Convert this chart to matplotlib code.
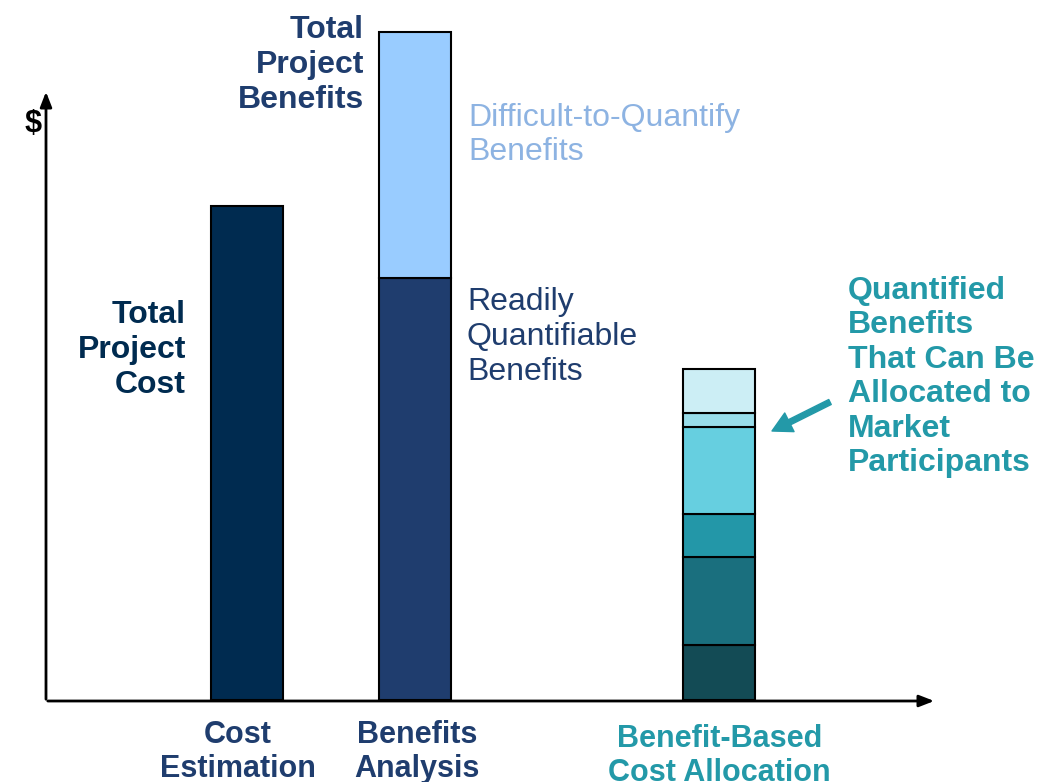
import matplotlib
matplotlib.use("Agg")
import matplotlib.pyplot as plt
from matplotlib import font_manager

# === Data (arbitrary $ units, total benefits = 100) ===
categories = ["Cost\nEstimation", "Benefits\nAnalysis", "Benefit-Based\nCost Allocation"]
total_cost = 74.0
readily_quantifiable = 63.2
difficult_to_quantify = 36.8
allocation_parts = [8.2, 13.2, 6.4, 13.0, 2.2, 6.6]  # bottom -> top

# === Styling ===
navy = "#002B50"
blue = "#1F3D6E"
light_blue = "#99CCFF"
light_text = "#8DB3E2"
teal = "#2399A8"
alloc_colors = ["#134B55", "#1A6F7E", "#2397A8", "#66CFE0", "#99DDEA", "#CCEEF5"]

names = {f.name for f in font_manager.fontManager.ttflist}
narrow = "Liberation Sans Narrow" if "Liberation Sans Narrow" in names else "Liberation Sans"
plt.rcParams["font.family"] = ["Liberation Sans", "DejaVu Sans"]

W, H = 1040, 782
px = 6.68          # pixels per unit
base = 700         # baseline pixel row (from top)

fig = plt.figure(figsize=(W / 100, H / 100), dpi=100)
ax = fig.add_axes([0, 0, 1, 1])
ax.set_xlim(0, W)
ax.set_ylim(-(H - base) / px, base / px)
ax.axis("off")

bar_x = [247, 415, 718.5]
bw = 72

# bars
ax.bar(bar_x[0], total_cost, width=bw, color=navy, edgecolor="black", linewidth=1.5)
ax.bar(bar_x[1], readily_quantifiable, width=bw, color=blue, edgecolor="black", linewidth=1.5)
ax.bar(bar_x[1], difficult_to_quantify, bottom=readily_quantifiable, width=bw,
       color=light_blue, edgecolor="black", linewidth=1.5)
bottom = 0
for v, c in zip(allocation_parts, alloc_colors):
    ax.bar(bar_x[2], v, bottom=bottom, width=bw, color=c, edgecolor="black", linewidth=1.5)
    bottom += v

# axes with arrows (pixel -> data helper)
def P(x, y):
    return (x, (base - y) / px)

ax.annotate("", xy=P(937, 701), xytext=P(45, 701),
            arrowprops=dict(arrowstyle="-|>,head_length=0.9,head_width=0.35", color="black", lw=2))
ax.annotate("", xy=P(46, 89), xytext=P(46, 702),
            arrowprops=dict(arrowstyle="-|>,head_length=0.9,head_width=0.35", color="black", lw=2))
ax.text(*P(33, 124), "$", fontsize=22, fontweight="bold", ha="center", va="center")

# labels
ls = 1.2
ax.text(*P(364, 65), "Total\nProject\nBenefits", fontsize=23, fontweight="bold",
        color=blue, ha="right", va="center", linespacing=ls)
ax.text(*P(186, 350), "Total\nProject\nCost", fontsize=23, fontweight="bold",
        color=navy, ha="right", va="center", linespacing=ls)
ax.text(*P(468, 135), "Difficult-to-Quantify\nBenefits", fontsize=23,
        color=light_text, ha="left", va="center", linespacing=ls)
ax.text(*P(467, 337), "Readily\nQuantifiable\nBenefits", fontsize=23,
        color=blue, ha="left", va="center", linespacing=ls)
ax.text(*P(848, 377), "Quantified\nBenefits\nThat Can Be\nAllocated to\nMarket\nParticipants",
        fontsize=23, fontweight="bold", color=teal, ha="left", va="center", linespacing=ls)

ax.annotate("", xy=P(772, 431), xytext=P(830, 402),
            arrowprops=dict(width=4, headwidth=15, headlength=14, color=teal, shrink=0))

# category labels
label_colors = [blue, blue, teal]
label_y = [752, 752, 756]
label_dx = [-9, 2, 1]
for x, lab, c, y, dx in zip(bar_x, categories, label_colors, label_y, label_dx):
    ax.text(*P(x + dx, y), lab, fontsize=22, fontweight="bold", color=c,
            ha="center", va="center", linespacing=1.15, family=[narrow, "DejaVu Sans"])

fig.savefig("out.png", dpi=100)
